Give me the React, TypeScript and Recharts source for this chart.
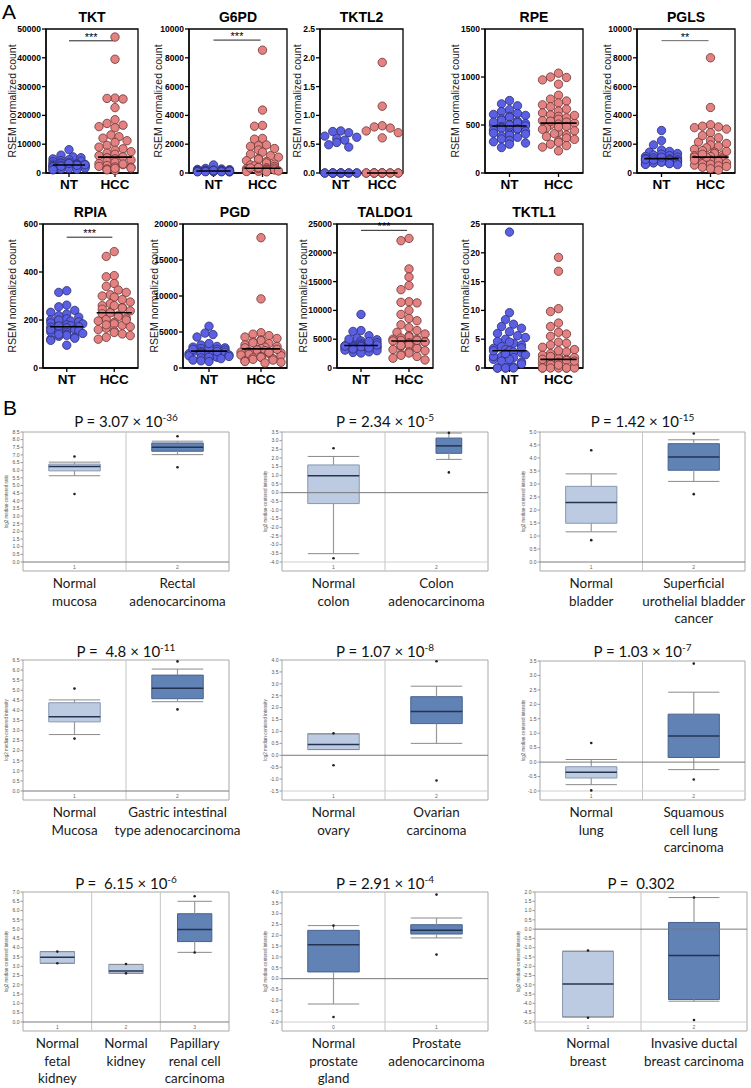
import React from 'react';
import { ScatterChart, Scatter, XAxis, YAxis, ReferenceLine, ReferenceArea } from 'recharts';

// ---------- Panel A: RSEM normalized counts, NT vs HCC ----------
const GENES = ['TKT', 'G6PD', 'TKTL2', 'RPE', 'PGLS', 'RPIA', 'PGD', 'TALDO1', 'TKTL1'];
const Y_MAX = [50000, 10000, 2.5, 1500, 10000, 600, 20000, 25000, 25];
const Y_STEP = [10000, 2000, 0.5, 500, 2000, 200, 5000, 5000, 5];

const TKT_NT = [8100, 6200, 5600, 5300, 4900, 4600, 4300, 4100, 3900, 3700, 3500, 3400, 3200, 3100, 3000, 2900, 2800, 2700, 2600, 2500, 2400, 2300, 2200, 2100, 2000, 1900, 1800, 1700, 1600, 1500, 1400, 1300, 1200, 1100, 2850, 2650, 2350, 3300];
const TKT_HCC = [47200, 39500, 26000, 25900, 25700, 22700, 18500, 17200, 16600, 16100, 15700, 13200, 12600, 12100, 11200, 10600, 9600, 9000, 8400, 7900, 7400, 6900, 6500, 6000, 5600, 5300, 4900, 4500, 4100, 3700, 3300, 2900, 2600, 2300, 2000, 1700, 1400, 1100, 900, 3100, 2100, 1600];
const G6PD_NT = [560, 320, 280, 250, 230, 210, 200, 190, 180, 170, 160, 155, 150, 145, 140, 135, 130, 125, 120, 115, 110, 100, 95, 90, 85, 80, 75, 170, 150, 130];
const G6PD_HCC = [8530, 4370, 3300, 3250, 2400, 2350, 1950, 1900, 1850, 1700, 1600, 1450, 1300, 1200, 1100, 1000, 950, 850, 800, 700, 620, 560, 500, 450, 400, 360, 330, 300, 270, 240, 210, 190, 160, 140, 120, 100, 80, 300, 350, 380];
const TKTL2_NT = [0.73, 0.70, 0.64, 0.62, 0.60, 0.57, 0.53, 0.49, 0.45, 0.72, 0, 0, 0, 0, 0, 0, 0, 0, 0, 0, 0, 0];
const TKTL2_HCC = [1.92, 1.16, 0.82, 0.80, 0.78, 0.73, 0.70, 0.61, 0, 0, 0, 0, 0, 0, 0, 0, 0, 0, 0, 0];
const RPE_NT = [755, 720, 700, 660, 640, 620, 610, 600, 590, 580, 565, 550, 540, 525, 515, 505, 498, 490, 482, 475, 465, 455, 445, 435, 425, 415, 405, 395, 385, 372, 355, 340, 325, 312, 300, 265, 480, 530, 460, 500];
const RPE_HCC = [1040, 1000, 995, 970, 925, 810, 770, 750, 730, 710, 690, 665, 645, 625, 605, 590, 575, 560, 545, 530, 520, 510, 500, 485, 470, 455, 440, 425, 410, 395, 380, 365, 350, 335, 320, 300, 285, 270, 230, 540, 600, 480];
const PGLS_NT = [2950, 2250, 1950, 1600, 1500, 1450, 1350, 1300, 1250, 1200, 1150, 1100, 1050, 1000, 1000, 980, 950, 920, 900, 880, 850, 820, 800, 780, 750, 720, 700, 680, 650, 620, 600, 580, 1050, 950, 1100, 900];
const PGLS_HCC = [8000, 4550, 3350, 3250, 3200, 3150, 3050, 2800, 2450, 2250, 2150, 2050, 1950, 1850, 1750, 1650, 1550, 1450, 1350, 1250, 1200, 1150, 1100, 1050, 1000, 950, 900, 850, 800, 750, 700, 650, 600, 550, 500, 450, 400, 300, 200, 1100, 1300, 900, 1500, 2600];
const RPIA_NT = [322, 315, 262, 255, 240, 232, 225, 218, 212, 205, 200, 196, 192, 188, 184, 180, 176, 172, 168, 164, 160, 156, 152, 148, 144, 140, 136, 132, 128, 124, 120, 115, 95, 170, 185, 150, 200, 175, 160, 140];
const RPIA_HCC = [485, 465, 385, 380, 352, 340, 325, 315, 305, 295, 285, 275, 268, 260, 252, 245, 238, 232, 226, 220, 214, 208, 202, 196, 190, 184, 178, 172, 166, 160, 154, 148, 142, 135, 128, 120, 230, 260, 200, 180, 300, 250];
const PGD_NT = [5800, 4850, 4650, 4300, 3200, 3000, 2900, 2800, 2700, 2600, 2500, 2400, 2350, 2300, 2250, 2200, 2100, 2000, 1950, 1900, 1800, 1700, 1600, 1500, 1400, 1300, 1200, 1100, 1000, 2300, 2600, 2000, 1500, 2800, 3400, 900];
const PGD_HCC = [18100, 9600, 4900, 4700, 4500, 4300, 4100, 3900, 3800, 3600, 3400, 3200, 3000, 2900, 2800, 2700, 2600, 2500, 2400, 2300, 2200, 2100, 2000, 1900, 1800, 1700, 1600, 1500, 1400, 1300, 1200, 1100, 1000, 900, 800, 3500, 2600, 2200, 1500, 700];
const TALDO1_NT = [9300, 6500, 6350, 5600, 5200, 4900, 4700, 4500, 4400, 4300, 4200, 4100, 4000, 3950, 3900, 3850, 3800, 3700, 3600, 3500, 3400, 3300, 3200, 3100, 3000, 2900, 2800, 2700, 2600, 4000, 3900, 3700, 4300, 3500, 4600, 3300, 5000, 3800];
const TALDO1_HCC = [22500, 22100, 17200, 15800, 14300, 13600, 11500, 11400, 11300, 10000, 9300, 8600, 8200, 7500, 7000, 6500, 6200, 5900, 5600, 5400, 5200, 5000, 4800, 4600, 4400, 4200, 4000, 3800, 3600, 3400, 3200, 3000, 2800, 2600, 2400, 2200, 2000, 1700, 1400, 5000, 4800, 4500, 3900, 4700];
const TKTL1_NT = [23.6, 9.6, 8.4, 7.6, 7.2, 6.9, 6.3, 6.0, 5.6, 5.3, 5.0, 4.6, 4.3, 4.0, 3.7, 3.4, 3.2, 3.0, 2.8, 2.6, 2.3, 2.0, 1.8, 1.5, 1.2, 1.0, 0.7, 0.4, 0.2, 0, 0, 0, 0, 0, 3.5, 2.0, 1.5, 4.5, 3.0, 2.5];
const TKTL1_HCC = [19.2, 16.8, 10.3, 9.8, 7.8, 7.2, 6.2, 5.9, 5.5, 4.5, 4.3, 4.0, 3.6, 3.2, 2.8, 2.5, 2.2, 2.0, 1.8, 1.6, 1.5, 1.3, 1.1, 1.0, 0.8, 0.6, 0.4, 0.2, 0, 0, 0, 0, 0, 0, 0, 2.0, 1.5, 3.0, 1.2, 0.5];

const NT_VALUES = [TKT_NT, G6PD_NT, TKTL2_NT, RPE_NT, PGLS_NT, RPIA_NT, PGD_NT, TALDO1_NT, TKTL1_NT];
const HCC_VALUES = [TKT_HCC, G6PD_HCC, TKTL2_HCC, RPE_HCC, PGLS_HCC, RPIA_HCC, PGD_HCC, TALDO1_HCC, TKTL1_HCC];
const MEDIANS = [[2800, 5500], [140, 330], [0, 0], [490, 520], [1000, 1100], [172, 230], [2350, 2650], [3900, 4700], [3.0, 1.5]];
const SIG_LABEL = ['***', '***', '', '', '**', '***', '', '***', ''];
const SIG_Y = [45900, 9230, 0, 0, 9190, 545, 0, 23900, 0];
const GROUPS = ['NT', 'HCC'];

// plot frame of each dot plot on the page (left, right, plot top, y-axis width)
const A_LAYOUT = [
  { left: 46, right: 138, top: 29, yw: 39 },
  { left: 189, right: 287, top: 29, yw: 36 },
  { left: 320, right: 403, top: 29, yw: 28 },
  { left: 485, right: 583, top: 29, yw: 35 },
  { left: 637, right: 735, top: 29, yw: 35 },
  { left: 43, right: 138, top: 224, yw: 36 },
  { left: 183, right: 287, top: 224, yw: 34 },
  { left: 337, right: 433, top: 224, yw: 39 },
  { left: 485, right: 583, top: 224, yw: 25 },
];
const A_PLOT_H = 144;
const DOT_R = 4.2;

// ---------- Panel B: Oncomine box plots ----------
const B_TITLES = ['P = 3.07 × 10', 'P = 2.34 × 10', 'P = 1.42 × 10', 'P =  4.8 × 10', 'P = 1.07 × 10', 'P = 1.03 × 10', 'P =  6.15 × 10', 'P = 2.91 × 10', 'P =  0.302'];
const B_EXP = ['-36', '-5', '-15', '-11', '-8', '-7', '-6', '-4', ''];
const B_RANGE = [[0, 8.5], [-4, 3.5], [0, 5], [0, 6.5], [-1.5, 4], [-1, 3.5], [0, 7], [-2, 4], [-5, 2]];
const B_YLABEL = ['log2 median-centered ratio', 'log2 median-centered intensity', 'log2 median-centered intensity', 'log2 median-centered intensity', 'log2 median-centered intensity', 'log2 median-centered intensity', 'log2 median-centered intensity', 'log2 median-centered intensity', 'log2 median-centered intensity'];
const B_CATS = [
  ['Normal\nmucosa', 'Rectal\nadenocarcinoma'],
  ['Normal\ncolon', 'Colon\nadenocarcinoma'],
  ['Normal\nbladder', 'Superficial\nurothelial bladder\ncancer'],
  ['Normal\nMucosa', 'Gastric intestinal\ntype adenocarcinoma'],
  ['Normal\novary', 'Ovarian\ncarcinoma'],
  ['Normal\nlung', 'Squamous\ncell lung\ncarcinoma'],
  ['Normal\nfetal\nkidney', 'Normal\nkidney', 'Papillary\nrenal cell\ncarcinoma'],
  ['Normal\nprostate\ngland', 'Prostate\nadenocarcinoma'],
  ['Normal\nbreast', 'Invasive ductal\nbreast carcinoma'],
];
const B_NUMS = [['1', '2'], ['1', '2'], ['1', '2'], ['1', '2'], ['1', '2'], ['1', '2'], ['1', '2', '3'], ['0', '1'], ['1', '2']];

// [lower whisker, q1, median, q3, upper whisker]
const RECTAL_BOX = [[5.64, 5.96, 6.25, 6.4, 6.53], [7.02, 7.24, 7.5, 7.78, 7.9]];
const COLON_BOX = [[-3.52, -0.63, 0.98, 1.6, 2.09], [1.92, 2.27, 2.7, 3.15, 3.44]];
const BLADDER_BOX = [[1.16, 1.49, 2.29, 2.91, 3.39], [3.1, 3.53, 4.04, 4.55, 4.7]];
const GASTRIC_BOX = [[2.8, 3.43, 3.68, 4.38, 4.52], [4.43, 4.58, 5.1, 5.75, 6.05]];
const OVARY_BOX = [[0.24, 0.24, 0.45, 0.9, 0.9], [0.5, 1.33, 1.84, 2.46, 2.9]];
const LUNG_BOX = [[-0.78, -0.55, -0.35, -0.16, 0.09], [-0.26, 0.16, 0.9, 1.66, 2.42]];
const KIDNEY_BOX = [[3.16, 3.16, 3.48, 3.79, 3.79], [2.62, 2.62, 2.74, 3.1, 3.1], [3.75, 4.33, 4.98, 5.83, 6.5]];
const PROSTATE_BOX = [[-1.17, 0.31, 1.57, 2.23, 2.45], [1.88, 2.06, 2.23, 2.49, 2.8]];
const BREAST_BOX = [[-4.73, -4.73, -2.95, -1.19, -1.19], [-3.88, -3.79, -1.42, 0.36, 1.7]];
const B_STATS = [RECTAL_BOX, COLON_BOX, BLADDER_BOX, GASTRIC_BOX, OVARY_BOX, LUNG_BOX, KIDNEY_BOX, PROSTATE_BOX, BREAST_BOX];

// min / max points per group
const B_OUTLIERS = [
  [[4.45, 6.9], [6.2, 8.22]],
  [[-3.78, 2.56], [1.17, 3.45]],
  [[0.84, 4.3], [2.61, 4.94]],
  [[2.6, 5.08], [4.05, 6.43]],
  [[-0.42, 0.92], [-1.06, 3.95]],
  [[-0.98, 0.66], [-0.6, 3.41]],
  [[3.16, 3.79], [2.62, 3.12], [3.74, 6.77]],
  [[-1.77, 2.45], [1.11, 3.88]],
  [[-4.77, -1.15], [-4.89, 1.7]],
];
const B_DARK = [[0, 1], [0, 1], [0, 1], [0, 1], [0, 1], [0, 1], [0, 0, 1], [1, 1], [0, 1]];

const B_LAYOUT = [
  { left: 23, right: 229, top: 432, bottom: 571, titleY: 421, half: [0.25, 0.25], shift: [0, 0] },
  { left: 282, right: 488, top: 432, bottom: 571, titleY: 421, half: [0.25, 0.125], shift: [0, 0.12] },
  { left: 540, right: 745, top: 432, bottom: 571, titleY: 421, half: [0.25, 0.25], shift: [0, 0] },
  { left: 23, right: 229, top: 660, bottom: 800, titleY: 651, half: [0.25, 0.25], shift: [0, 0] },
  { left: 282, right: 488, top: 660, bottom: 800, titleY: 651, half: [0.25, 0.25], shift: [0, 0] },
  { left: 540, right: 745, top: 661, bottom: 800, titleY: 651, half: [0.25, 0.25], shift: [0, 0] },
  { left: 23, right: 229, top: 892, bottom: 1031, titleY: 883, half: [0.25, 0.25, 0.25], shift: [0, 0, 0] },
  { left: 282, right: 488, top: 892, bottom: 1031, titleY: 883, half: [0.25, 0.25], shift: [0, 0] },
  { left: 535, right: 747, top: 892, bottom: 1031, titleY: 883, half: [0.24, 0.24], shift: [0, 0] },
];

const ARIAL = '"Liberation Sans", Arial, sans-serif';
const CALIBRI = 'Lato, "Open Sans", sans-serif';
const NT_FILL = '#5a5fe3';
const NT_STROKE = '#2c2f70';
const HCC_FILL = '#e48282';
const HCC_STROKE = '#6a3434';
const LIGHT_BOX = { fill: '#bccbe1', stroke: '#8797b0' };
const DARK_BOX = { fill: '#6182b5', stroke: '#48628e' };

// simple beeswarm: spread points sideways so circles don't sit on top of each other
function swarm(values: number[], center: number, yMax: number, pxPerX: number) {
  const step = 4;
  const maxPx = 0.4 * pxPerX;
  const order = values.map((_, i) => i).sort((a, b) => values[b] - values[a]);
  const placed: { dx: number; py: number }[] = [];
  const out: { x: number; y: number }[] = new Array(values.length);
  order.forEach((i) => {
    const py = (values[i] / yMax) * A_PLOT_H;
    let best = 0;
    let bestHits = Infinity;
    for (let k = 0; Math.ceil(k / 2) * step <= maxPx; k++) {
      const dx = (k % 2 === 0 ? 1 : -1) * Math.ceil(k / 2) * step;
      let hits = 0;
      placed.forEach((p) => {
        if ((p.dx - dx) ** 2 + (p.py - py) ** 2 < (2 * DOT_R * 0.9) ** 2) hits++;
      });
      if (hits < bestHits) {
        best = dx;
        bestHits = hits;
      }
      if (hits === 0) break;
    }
    placed.push({ dx: best, py });
    out[i] = { x: center + best / pxPerX, y: values[i] };
  });
  return out;
}

const dotShape = (fill: string, stroke: string) => (p: any) => (
  <circle cx={p.cx} cy={p.cy} r={DOT_R} fill={fill} stroke={stroke} strokeWidth={0.8} />
);

const DotPlot = ({ idx }: { idx: number }) => {
  const L = A_LAYOUT[idx];
  const w = L.right - L.left;
  const pxPerX = w / 2;
  const yMax = Y_MAX[idx];
  const nt = swarm(NT_VALUES[idx], 1, yMax, pxPerX);
  const hcc = swarm(HCC_VALUES[idx], 2, yMax, pxPerX);
  const ticks: number[] = [];
  for (let t = 0; t <= yMax + 1e-9; t += Y_STEP[idx]) ticks.push(Math.round(t * 100) / 100);
  const fmt = (v: number) => (Y_STEP[idx] < 1 ? v.toFixed(1) : String(v));
  const [mNT, mHCC] = MEDIANS[idx];

  return (
    <div style={{ position: 'absolute', left: L.left - L.yw, top: L.top - 29 }}>
      <div style={{ position: 'absolute', left: L.yw, width: w, top: 8, textAlign: 'center', fontFamily: ARIAL, fontWeight: 'bold', fontSize: 14, lineHeight: '18px', color: '#000' }}>
        {GENES[idx]}
      </div>
      <ScatterChart width={L.yw + w + 4} height={200} margin={{ top: 29, right: 4, bottom: 5, left: 0 }}>
        <XAxis
          type="number"
          dataKey="x"
          domain={[0.5, 2.5]}
          ticks={[1, 2]}
          tickFormatter={(v: number) => GROUPS[v - 1]}
          height={22}
          tickSize={4}
          tickMargin={2}
          axisLine={{ stroke: '#000', strokeWidth: 1.3 }}
          tickLine={{ stroke: '#000', strokeWidth: 1.3 }}
          tick={{ fill: '#000', fontSize: 13.5, fontWeight: 'bold', fontFamily: ARIAL }}
        />
        <YAxis
          type="number"
          dataKey="y"
          domain={[0, yMax]}
          ticks={ticks}
          interval={0}
          tickFormatter={fmt}
          width={L.yw}
          tickSize={4}
          tickMargin={1}
          axisLine={{ stroke: '#000', strokeWidth: 1.3 }}
          tickLine={{ stroke: '#000', strokeWidth: 1.3 }}
          tick={{ fill: '#000', fontSize: 8.5, fontWeight: 'bold', fontFamily: ARIAL }}
          label={{
            value: 'RSEM normalized count',
            angle: -90,
            position: 'insideLeft',
            offset: 5,
            style: { textAnchor: 'middle', fontSize: 10.5, fill: '#222', fontFamily: ARIAL },
          }}
        />
        <ReferenceArea x1={0.5} x2={2.5} y1={0} y2={yMax} fill="none" stroke="#000" strokeWidth={1.3} />
        <Scatter data={nt} shape={dotShape(NT_FILL, NT_STROKE)} isAnimationActive={false} />
        <Scatter data={hcc} shape={dotShape(HCC_FILL, HCC_STROKE)} isAnimationActive={false} />
        <ReferenceLine segment={[{ x: 0.65, y: mNT }, { x: 1.35, y: mNT }]} stroke="#000" strokeWidth={1.6} zIndex={700} />
        <ReferenceLine segment={[{ x: 1.63, y: mHCC }, { x: 2.37, y: mHCC }]} stroke="#000" strokeWidth={1.6} zIndex={700} />
        {SIG_LABEL[idx] && (
          <ReferenceLine
            segment={[{ x: 1, y: SIG_Y[idx] }, { x: 1.96, y: SIG_Y[idx] }]}
            stroke={SIG_LABEL[idx] === '**' ? '#666' : '#222'}
            strokeWidth={1}
            label={{ value: SIG_LABEL[idx], position: 'top', offset: 0, fontSize: 11, fill: '#000', fontFamily: ARIAL }}
          />
        )}
      </ScatterChart>
    </div>
  );
};

const BoxPlot = ({ idx }: { idx: number }) => {
  const L = B_LAYOUT[idx];
  const [lo, hi] = B_RANGE[idx];
  const plotH = L.bottom - L.top;
  const pad = ((hi - lo) * 9) / (plotH - 9);
  const stats = B_STATS[idx];
  const n = stats.length;
  const ticks: number[] = [];
  for (let t = lo; t <= hi + 1e-9; t += 0.5) ticks.push(Math.round(t * 10) / 10);
  const dots = B_OUTLIERS[idx].flatMap((pair, i) => pair.map((y) => ({ x: i + 1 + L.shift[i], y })));
  const w = L.right - L.left;

  const catTick = (p: any) => {
    const i = Math.round(p.payload.value) - 1;
    const lines = B_CATS[idx][i].split('\n');
    return (
      <g>
        <text x={p.x} y={p.y - 2.5} textAnchor="middle" fontSize={5} fill="#666" fontFamily={ARIAL}>
          {B_NUMS[idx][i]}
        </text>
        <text x={p.x} y={p.y + 17} textAnchor="middle" fontSize={13.4} fill="#1a1a1a" fontFamily={CALIBRI}>
          {lines.map((ln, j) => (
            <tspan key={j} x={p.x} dy={j === 0 ? 0 : 17.5}>
              {ln}
            </tspan>
          ))}
        </text>
      </g>
    );
  };

  return (
    <>
      <div style={{ position: 'absolute', left: L.left, width: w, top: L.titleY - 10, textAlign: 'center', fontFamily: CALIBRI, fontSize: 15, lineHeight: '20px', whiteSpace: 'pre', color: '#111' }}>
        {B_TITLES[idx]}
        {B_EXP[idx] && <sup style={{ fontSize: 10, lineHeight: 0 }}>{B_EXP[idx]}</sup>}
      </div>
      <div style={{ position: 'absolute', left: L.left - 22, top: L.top }}>
        <ScatterChart width={22 + w + 4} height={plotH + 62} margin={{ top: 0, right: 0, bottom: 0, left: 0 }}>
          <XAxis
            type="number"
            dataKey="x"
            domain={[0.5, n + 0.5]}
            ticks={stats.map((_, i) => i + 1)}
            interval={0}
            height={62}
            tickSize={0}
            tickMargin={0}
            axisLine={false}
            tickLine={false}
            tick={catTick}
          />
          <YAxis
            type="number"
            dataKey="y"
            domain={[lo - pad, hi]}
            ticks={ticks}
            interval={0}
            tickFormatter={(v: number) => v.toFixed(1)}
            width={22}
            tickSize={2.5}
            tickMargin={1}
            axisLine={false}
            tickLine={{ stroke: '#999' }}
            tick={{ fill: '#555', fontSize: 5, fontFamily: ARIAL }}
            label={{
              value: B_YLABEL[idx],
              angle: -90,
              position: 'insideLeft',
              offset: 5,
              style: { textAnchor: 'middle', fontSize: 4.5, fill: '#555', fontFamily: ARIAL },
            }}
          />
          <YAxis
            yAxisId="r"
            orientation="right"
            type="number"
            domain={[lo - pad, hi]}
            ticks={ticks}
            interval={0}
            tickFormatter={() => ''}
            width={4}
            tickSize={2.5}
            axisLine={false}
            tickLine={{ stroke: '#bbb' }}
          />
          <ReferenceArea x1={0.5} x2={n + 0.5} y1={lo - pad} y2={hi} fill="#fff" fillOpacity={1} stroke="#a8a8a8" strokeWidth={1} />
          {stats.slice(1).map((_, i) => (
            <ReferenceLine key={'d' + i} x={i + 1.5} stroke="#c4c4c4" strokeWidth={1} />
          ))}
          {lo !== 0 && <ReferenceLine y={lo} stroke="#cfcfcf" strokeWidth={1} />}
          {stats.map((s, i) => {
            const c = i + 1 + L.shift[i];
            const h = L.half[i];
            const col = B_DARK[idx][i] ? DARK_BOX : LIGHT_BOX;
            const [wlo, q1, med, q3, whi] = s;
            return (
              <React.Fragment key={'b' + i}>
                <ReferenceLine segment={[{ x: c, y: wlo }, { x: c, y: q1 }]} stroke="#9a9a9a" strokeWidth={1.2} />
                <ReferenceLine segment={[{ x: c, y: q3 }, { x: c, y: whi }]} stroke="#9a9a9a" strokeWidth={1.2} />
                <ReferenceLine segment={[{ x: c - h, y: wlo }, { x: c + h, y: wlo }]} stroke="#8a8a8a" strokeWidth={1} />
                <ReferenceLine segment={[{ x: c - h, y: whi }, { x: c + h, y: whi }]} stroke="#8a8a8a" strokeWidth={1} />
                <ReferenceArea x1={c - h} x2={c + h} y1={q1} y2={q3} fill={col.fill} fillOpacity={1} stroke={col.stroke} strokeWidth={1} />
                <ReferenceLine segment={[{ x: c - h, y: med }, { x: c + h, y: med }]} stroke="#243350" strokeWidth={1.5} />
              </React.Fragment>
            );
          })}
          {lo <= 0 && <ReferenceLine y={0} stroke="#7a7a7a" strokeWidth={1} />}
          <Scatter
            data={dots}
            shape={(p: any) => <circle cx={p.cx} cy={p.cy} r={1.3} fill="#222" />}
            isAnimationActive={false}
          />
        </ScatterChart>
      </div>
    </>
  );
};

export default function App() {
  return (
    <div style={{ position: 'absolute', left: 0, top: 0, width: 751, height: 1088, overflow: 'hidden', background: '#fff', fontFamily: ARIAL }}>
      <style>{'.recharts-surface{overflow:visible}'}</style>
      <div style={{ position: 'absolute', left: 2, top: 0, fontSize: 21 }}>A</div>
      {GENES.map((_, i) => (
        <DotPlot key={i} idx={i} />
      ))}
      <div style={{ position: 'absolute', left: 3, top: 396, fontSize: 21 }}>B</div>
      {B_TITLES.map((_, i) => (
        <BoxPlot key={i} idx={i} />
      ))}
    </div>
  );
}
